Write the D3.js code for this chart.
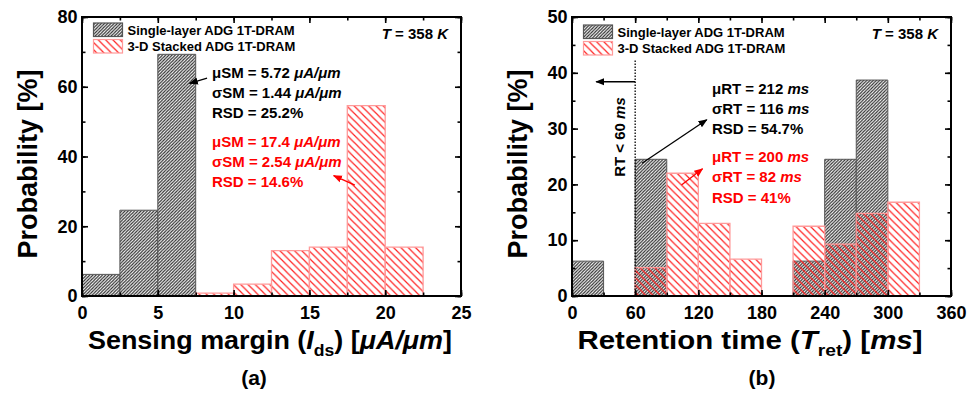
<!DOCTYPE html>
<html>
<head>
<meta charset="utf-8">
<script src="https://cdn.jsdelivr.net/npm/d3@7"></script>
<style>
  body { margin: 0; background: #fff; }
  svg text { font-family: "Liberation Sans", Arial, sans-serif; font-weight: bold; }
</style>
</head>
<body>
<svg id="chart"></svg>
<script>
// (a) sensing margin histogram, bin width 2.5 uA/um
const smBinStart = [0, 2.5, 5, 7.5, 10, 12.5, 15, 17.5, 20];
const smSingle = [6.2, 24.6, 69.3, null, null, null, null, null, null];
const smStacked = [null, 0, 0, 0.8, 3.4, 13.0, 14.0, 54.6, 14.0];
const smXTicks = [0, 5, 10, 15, 20, 25];
const smYTicks = [0, 20, 40, 60, 80];

// (b) retention time histogram, bin width 30 ms
const rtBinStart = [0, 30, 60, 90, 120, 150, 180, 210, 240, 270, 300];
const rtSingle = [6.25, null, 24.5, null, null, null, null, 6.25, 24.5, 38.7, null];
const rtStacked = [null, 0, 5.1, 22.0, 13.0, 6.6, 0, 12.5, 9.3, 14.8, 16.8];
const rtXTicks = [0, 60, 120, 180, 240, 300, 360];
const rtYTicks = [0, 10, 20, 30, 40, 50];

const legendLabels = ['Single-layer ADG 1T-DRAM', '3-D Stacked ADG 1T-DRAM'];

const width = 974;
const height = 395;

const svg = d3.select('#chart')
    .attr('width', width)
    .attr('height', height);

const defs = svg.append('defs');

// dense grey "/" hatch
const hatchBlack = defs.append('pattern')
    .attr('id', 'hatchBlack')
    .attr('patternUnits', 'userSpaceOnUse')
    .attr('width', 3.2)
    .attr('height', 3.2);
hatchBlack.append('rect').attr('width', 3.2).attr('height', 3.2).attr('fill', '#fff');
hatchBlack.append('path')
    .attr('d', 'M0,3.2 L3.2,0 M-1,1 L1,-1 M2.2,4.2 L4.2,2.2')
    .attr('stroke', '#2a2a2a')
    .attr('stroke-width', 1.15);

// sparse red "\" hatch, transparent
const hatchRed = defs.append('pattern')
    .attr('id', 'hatchRed')
    .attr('patternUnits', 'userSpaceOnUse')
    .attr('width', 7.3)
    .attr('height', 7.3);
hatchRed.append('path')
    .attr('d', 'M0,0 L7.3,7.3 M-1,6.3 L1,8.3 M6.3,-1 L8.3,1')
    .attr('stroke', '#ff2020')
    .attr('stroke-width', 1.2);

const panels = [
    {
        left: 82, right: 461, top: 17, bottom: 296,
        xDomain: [0, 25], yDomain: [0, 80], binWidth: 2.5,
        bins: smBinStart, single: smSingle, stacked: smStacked,
        xTicks: smXTicks, yTicks: smYTicks,
        xMinor: 2.5, yMinor: 10,
        legendY: 23,
        caption: '(a)', captionX: 254,
        xLabelX: 270, xLabelLen: 364
    },
    {
        left: 572, right: 951, top: 17, bottom: 296,
        xDomain: [0, 360], yDomain: [0, 50], binWidth: 30,
        bins: rtBinStart, single: rtSingle, stacked: rtStacked,
        xTicks: rtXTicks, yTicks: rtYTicks,
        xMinor: 30, yMinor: 5,
        legendY: 25,
        caption: '(b)', captionX: 762,
        xLabelX: 750, xLabelLen: 345
    }
];

panels.forEach(p => {
    p.x = d3.scaleLinear().domain(p.xDomain).range([p.left, p.right]);
    p.y = d3.scaleLinear().domain(p.yDomain).range([p.bottom, p.top]);
    const g = svg.append('g');
    p.g = g;

    const barPath = (start, v) => {
        const x0 = p.x(start), x1 = p.x(start + p.binWidth);
        const y0 = p.y(0), y1 = p.y(v);
        return `M${x0},${y0} L${x0},${y1} L${x1},${y1} L${x1},${y0} Z`;
    };

    const singleData = p.bins.map((b, i) => ({ b, v: p.single[i] })).filter(d => d.v !== null);
    const stackedData = p.bins.map((b, i) => ({ b, v: p.stacked[i] })).filter(d => d.v !== null);

    g.selectAll('.single')
        .data(singleData)
        .enter().append('path')
        .attr('class', 'single')
        .attr('d', d => barPath(d.b, d.v))
        .attr('fill', 'url(#hatchBlack)')
        .attr('stroke', '#555')
        .attr('stroke-width', 1);

    g.selectAll('.stacked')
        .data(stackedData)
        .enter().append('path')
        .attr('class', 'stacked')
        .attr('d', d => barPath(d.b, d.v))
        .attr('fill', 'url(#hatchRed)')
        .attr('stroke', '#ff9a9a')
        .attr('stroke-width', 1.3);

    // minor ticks (every half step) then major ticks with labels, all pointing inward
    const xMinorTicks = d3.range(p.xDomain[0], p.xDomain[1] + 1e-9, p.xMinor);
    const yMinorTicks = d3.range(p.yDomain[0], p.yDomain[1] + 1e-9, p.yMinor);

    const addAxis = (axisFn, scale, ticks, size, labels, transform) => {
        const a = axisFn(scale).tickValues(ticks).tickSizeInner(size).tickSizeOuter(0);
        if (!labels) a.tickFormat('');
        else a.tickPadding(7);
        const ag = g.append('g').attr('transform', transform).call(a);
        ag.select('.domain').remove();
        ag.selectAll('line').attr('stroke', '#000').attr('stroke-width', 1.6);
        ag.selectAll('text')
            .attr('font-size', 18)
            .attr('fill', '#000')
            .style('font-family', '"Liberation Sans", Arial, sans-serif');
        return ag;
    };

    addAxis(d3.axisBottom, p.x, xMinorTicks, -3.5, false, `translate(0,${p.bottom})`);
    addAxis(d3.axisTop, p.x, xMinorTicks, -3.5, false, `translate(0,${p.top})`);
    addAxis(d3.axisLeft, p.y, yMinorTicks, -3.5, false, `translate(${p.left},0)`);
    addAxis(d3.axisRight, p.y, yMinorTicks, -3.5, false, `translate(${p.right},0)`);
    addAxis(d3.axisTop, p.x, p.xTicks, -6, false, `translate(0,${p.top})`);
    addAxis(d3.axisRight, p.y, p.yTicks, -6, false, `translate(${p.right},0)`);
    addAxis(d3.axisBottom, p.x, p.xTicks, -6, true, `translate(0,${p.bottom})`)
        .selectAll('text').attr('dy', '0.71em').attr('y', 10);
    addAxis(d3.axisLeft, p.y, p.yTicks, -6, true, `translate(${p.left},0)`)
        .selectAll('text').attr('x', -4.5);

    // frame
    g.append('rect')
        .attr('x', p.left).attr('y', p.top)
        .attr('width', p.right - p.left).attr('height', p.bottom - p.top)
        .attr('fill', 'none')
        .attr('stroke', '#000')
        .attr('stroke-width', 2);

    // legend
    const lx = p.left + 11.5;
    legendLabels.forEach((lab, i) => {
        const ly = p.legendY + i * 16.5;
        g.append('rect')
            .attr('x', lx).attr('y', ly)
            .attr('width', 29).attr('height', 13.5)
            .attr('fill', i === 0 ? 'url(#hatchBlack)' : 'url(#hatchRed)')
            .attr('stroke', i === 0 ? '#555' : '#ff9a9a')
            .attr('stroke-width', 1.2);
        g.append('text')
            .attr('x', lx + 34).attr('y', ly + 11.5)
            .attr('font-size', 13)
            .text(lab);
    });

    const tText = g.append('text')
        .attr('x', p.right - 13).attr('y', 38.5)
        .attr('text-anchor', 'end')
        .attr('font-size', 15);
    tText.append('tspan').attr('font-style', 'italic').text('T');
    tText.append('tspan').text(' = 358 ');
    tText.append('tspan').attr('font-style', 'italic').text('K');

    // y label
    g.append('text')
        .attr('transform', `translate(${p.left - 45},164) rotate(-90)`)
        .attr('text-anchor', 'middle')
        .attr('font-size', 27)
        .text('Probability [%]');

    g.append('text')
        .attr('x', p.captionX).attr('y', 385)
        .attr('text-anchor', 'middle')
        .attr('font-size', 21)
        .text(p.caption);
});

// x labels with italic / subscript parts
function xLabel(p, pre, sym, sub, unit) {
    const t = p.g.append('text')
        .attr('x', p.xLabelX).attr('y', 349)
        .attr('text-anchor', 'middle')
        .attr('font-size', 26)
        .attr('textLength', p.xLabelLen)
        .attr('lengthAdjust', 'spacingAndGlyphs');
    t.append('tspan').text(pre + ' (');
    t.append('tspan').attr('font-style', 'italic').text(sym);
    t.append('tspan').attr('font-size', 17).attr('dy', 7).text(sub);
    t.append('tspan').attr('dy', -7).text(') [');
    t.append('tspan').attr('font-style', 'italic').text(unit);
    t.append('tspan').text(']');
}
xLabel(panels[0], 'Sensing margin', 'I', 'ds', 'μA/μm');
xLabel(panels[1], 'Retention time', 'T', 'ret', 'ms');

// annotation blocks
function statBlock(p, x, y0, color, lines) {
    lines.forEach((ln, i) => {
        const t = p.g.append('text')
            .attr('x', x).attr('y', y0 + i * 20.3)
            .attr('font-size', 15)
            .attr('fill', color);
        t.append('tspan').text(ln[0]);
        if (ln[1]) t.append('tspan').attr('font-style', 'italic').text(ln[1]);
    });
}

const arrowHead = (id, color) => {
    defs.append('marker')
        .attr('id', id)
        .attr('viewBox', '0 0 10 10')
        .attr('refX', 9).attr('refY', 5)
        .attr('markerWidth', 7).attr('markerHeight', 7)
        .attr('orient', 'auto')
        .append('path')
        .attr('d', 'M0,1 L10,5 L0,9 Z')
        .attr('fill', color);
};
arrowHead('arrBlack', '#000');
arrowHead('arrRed', '#ff0000');

function arrow(p, from, to, color, id) {
    p.g.append('line')
        .attr('x1', p.x(from[0])).attr('y1', p.y(from[1]))
        .attr('x2', p.x(to[0])).attr('y2', p.y(to[1]))
        .attr('stroke', color)
        .attr('stroke-width', 1.3)
        .attr('marker-end', `url(#${id})`);
}

const pa = panels[0];
const pb = panels[1];

statBlock(pa, 212, 77.5, '#000', [['μSM = 5.72 ', 'μA/μm'], ['σSM = 1.44 ', 'μA/μm'], ['RSD = 25.2%']]);
statBlock(pa, 212, 146.5, '#ff0000', [['μSM = 17.4 ', 'μA/μm'], ['σSM = 2.54 ', 'μA/μm'], ['RSD = 14.6%']]);
arrow(pa, [8.25, 62.5], [7.1, 61.0], '#000', 'arrBlack');
arrow(pa, [18.0, 31.8], [16.6, 34.5], '#ff0000', 'arrRed');

statBlock(pb, 712, 93.5, '#000', [['μRT = 212 ', 'ms'], ['σRT = 116 ', 'ms'], ['RSD = 54.7%']]);
statBlock(pb, 712, 162, '#ff0000', [['μRT = 200 ', 'ms'], ['σRT = 82 ', 'ms'], ['RSD = 41%']]);
arrow(pb, [66.5, 23.8], [128, 31.6], '#000', 'arrBlack');
arrow(pb, [104, 19.9], [124, 22.8], '#ff0000', 'arrRed');

// RT < 60 ms cut-off
pb.g.append('line')
    .attr('x1', pb.x(60)).attr('x2', pb.x(60))
    .attr('y1', pb.y(0)).attr('y2', pb.y(42.3))
    .attr('stroke', '#000')
    .attr('stroke-width', 1.3)
    .attr('stroke-dasharray', '1.5,1.5');
arrow(pb, [60, 38.4], [23, 38.4], '#000', 'arrBlack');
const rtText = pb.g.append('text')
    .attr('transform', `translate(${pb.x(60) - 10},137) rotate(-90)`)
    .attr('text-anchor', 'middle')
    .attr('font-size', 15);
rtText.append('tspan').text('RT < 60 ');
rtText.append('tspan').attr('font-style', 'italic').text('ms');
</script>
</body>
</html>
